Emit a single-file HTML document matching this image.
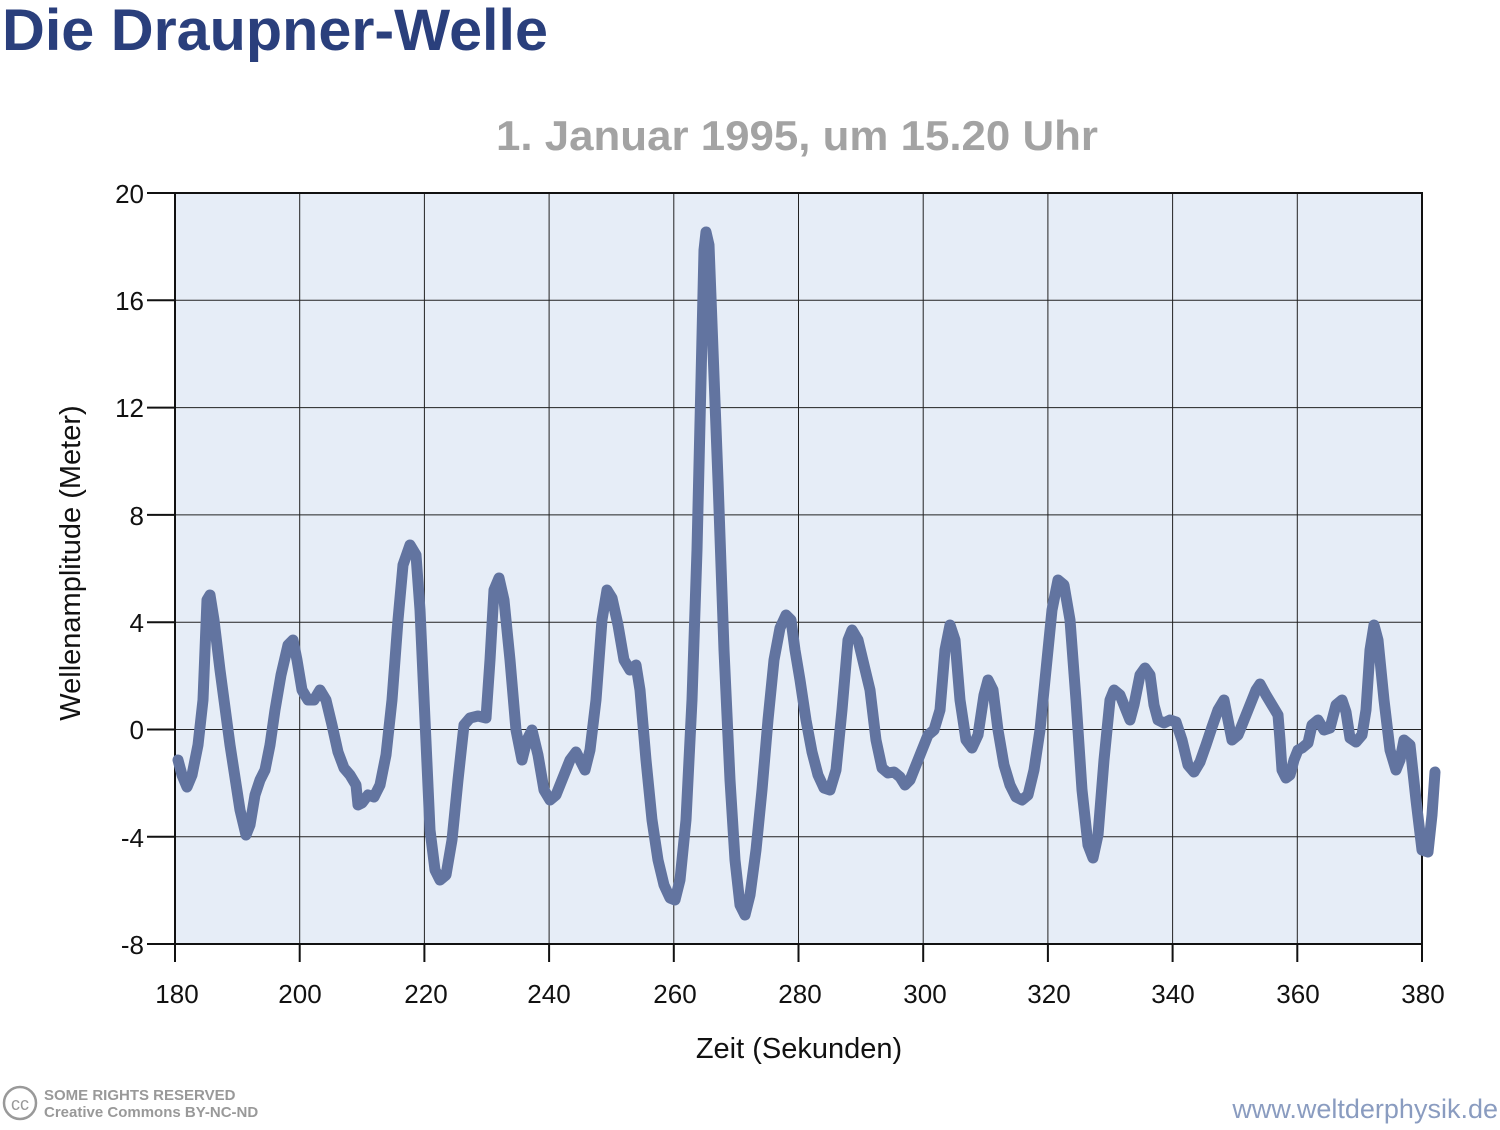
<!DOCTYPE html>
<html><head><meta charset="utf-8"><style>
body{margin:0;width:1500px;height:1125px;background:#fff;overflow:hidden;font-family:"Liberation Sans",sans-serif}
</style></head><body>
<svg width="1500" height="1125" xmlns="http://www.w3.org/2000/svg" font-family="Liberation Sans, sans-serif">
<text x="2" y="50" font-size="58" font-weight="bold" fill="#2a3f7c" textLength="546" lengthAdjust="spacingAndGlyphs">Die Draupner-Welle</text>
<text x="797" y="150" font-size="42" font-weight="bold" fill="#a3a3a3" text-anchor="middle" textLength="602" lengthAdjust="spacingAndGlyphs">1. Januar 1995, um 15.20 Uhr</text>
<rect x="175" y="193" width="1247" height="751" fill="#e6edf7"/>
<g stroke="#222" stroke-width="1">
<line x1="175" y1="300.3" x2="1422" y2="300.3"/><line x1="175" y1="407.6" x2="1422" y2="407.6"/><line x1="175" y1="514.9" x2="1422" y2="514.9"/><line x1="175" y1="622.2" x2="1422" y2="622.2"/><line x1="175" y1="729.5" x2="1422" y2="729.5"/><line x1="175" y1="836.8" x2="1422" y2="836.8"/>
<line x1="299.7" y1="193" x2="299.7" y2="944"/><line x1="424.4" y1="193" x2="424.4" y2="944"/><line x1="549.1" y1="193" x2="549.1" y2="944"/><line x1="673.8" y1="193" x2="673.8" y2="944"/><line x1="798.5" y1="193" x2="798.5" y2="944"/><line x1="923.2" y1="193" x2="923.2" y2="944"/><line x1="1047.9" y1="193" x2="1047.9" y2="944"/><line x1="1172.6" y1="193" x2="1172.6" y2="944"/><line x1="1297.3" y1="193" x2="1297.3" y2="944"/>
</g>
<rect x="175" y="193" width="1247" height="751" fill="none" stroke="#111" stroke-width="2"/>
<g stroke="#111" stroke-width="2">
<line x1="147" y1="193" x2="175" y2="193"/><line x1="147" y1="300.3" x2="175" y2="300.3"/><line x1="147" y1="407.6" x2="175" y2="407.6"/><line x1="147" y1="514.9" x2="175" y2="514.9"/><line x1="147" y1="622.2" x2="175" y2="622.2"/><line x1="147" y1="729.5" x2="175" y2="729.5"/><line x1="147" y1="836.8" x2="175" y2="836.8"/><line x1="147" y1="944" x2="175" y2="944"/>
<line x1="175" y1="944" x2="175" y2="962"/><line x1="299.7" y1="944" x2="299.7" y2="962"/><line x1="424.4" y1="944" x2="424.4" y2="962"/><line x1="549.1" y1="944" x2="549.1" y2="962"/><line x1="673.8" y1="944" x2="673.8" y2="962"/><line x1="798.5" y1="944" x2="798.5" y2="962"/><line x1="923.2" y1="944" x2="923.2" y2="962"/><line x1="1047.9" y1="944" x2="1047.9" y2="962"/><line x1="1172.6" y1="944" x2="1172.6" y2="962"/><line x1="1297.3" y1="944" x2="1297.3" y2="962"/><line x1="1422" y1="944" x2="1422" y2="962"/>
</g>
<g font-size="26" fill="#111" text-anchor="end">
<text x="144" y="203">20</text><text x="144" y="310">16</text><text x="144" y="417">12</text><text x="144" y="525">8</text><text x="144" y="632">4</text><text x="144" y="739">0</text><text x="144" y="847">-4</text><text x="144" y="954">-8</text>
</g>
<g font-size="26" fill="#111" text-anchor="middle">
<text x="177" y="1003">180</text><text x="300" y="1003">200</text><text x="426" y="1003">220</text><text x="549" y="1003">240</text><text x="675" y="1003">260</text><text x="800" y="1003">280</text><text x="925" y="1003">300</text><text x="1049" y="1003">320</text><text x="1173" y="1003">340</text><text x="1298" y="1003">360</text><text x="1423" y="1003">380</text>
</g>
<text x="799" y="1058" font-size="29" fill="#111" text-anchor="middle">Zeit (Sekunden)</text>
<text transform="translate(80,563) rotate(-90)" font-size="29" fill="#111" text-anchor="middle">Wellenamplitude (Meter)</text>
<polyline fill="none" stroke="#6274a0" stroke-width="11" stroke-linejoin="round" stroke-linecap="round" points="178,760 182,775 187,787 192,775 198,745 203,700 207,600 210,595 214,620 220,670 230,745 240,810 246,835 250,825 255,795 260,780 265,770 270,745 275,710 281,675 288,645 293,640 297,660 302,690 308,700 314,700 320,690 326,700 332,725 338,752 344,768 350,775 356,785 358,805 362,803 368,795 374,797 380,785 386,755 392,700 398,620 403,565 410,545 416,555 420,610 425,720 430,830 435,870 440,880 446,875 452,840 458,780 464,725 470,718 478,716 486,718 490,660 494,590 499,578 504,600 510,660 516,730 522,760 527,740 532,730 538,755 544,790 550,800 556,795 562,780 570,760 576,752 580,760 585,770 590,750 596,700 602,620 607,590 612,598 618,625 624,660 630,670 636,665 640,690 646,760 652,820 658,860 664,885 670,898 675,900 680,880 686,820 692,700 697,550 701,380 704,250 706,232 709,245 713,350 718,480 724,650 730,780 735,860 740,905 745,915 750,895 756,850 762,790 768,720 774,660 780,628 786,615 791,620 795,650 800,680 806,720 812,752 818,775 824,788 830,790 836,770 842,710 848,640 852,630 858,640 864,665 870,690 876,740 882,768 888,773 894,772 900,777 905,785 910,780 916,765 922,750 928,735 934,730 940,710 945,650 950,625 955,640 960,700 966,740 972,748 978,735 984,695 988,680 993,690 998,730 1004,765 1010,785 1016,797 1022,800 1028,795 1034,770 1040,730 1046,670 1052,610 1058,580 1064,585 1070,620 1076,700 1082,790 1088,845 1093,858 1098,835 1104,760 1110,700 1114,690 1120,695 1126,710 1130,720 1134,705 1140,675 1145,668 1150,675 1154,705 1158,720 1164,723 1170,720 1176,722 1182,740 1188,765 1194,772 1200,762 1206,745 1212,727 1218,710 1224,700 1228,720 1232,740 1238,735 1244,720 1250,705 1256,690 1260,684 1266,695 1272,705 1278,715 1280,740 1282,770 1286,778 1290,775 1294,760 1298,750 1302,748 1308,743 1312,725 1318,720 1324,730 1330,728 1336,705 1342,700 1346,712 1350,738 1356,742 1362,735 1366,710 1370,650 1374,625 1378,640 1384,700 1390,750 1396,770 1400,760 1404,740 1410,745 1416,800 1422,850 1428,852 1432,815 1435,772"/>
<circle cx="20" cy="1103" r="16" fill="none" stroke="#999" stroke-width="2.5"/>
<text x="20" y="1110" font-size="18" fill="#999" text-anchor="middle">cc</text>
<text x="44" y="1100" font-size="15" font-weight="bold" fill="#999">SOME RIGHTS RESERVED</text>
<text x="44" y="1117" font-size="15" font-weight="bold" fill="#999">Creative Commons BY-NC-ND</text>
<text x="1498" y="1118" font-size="27" fill="#8a9cc0" text-anchor="end">www.weltderphysik.de</text>
</svg>
</body></html>
